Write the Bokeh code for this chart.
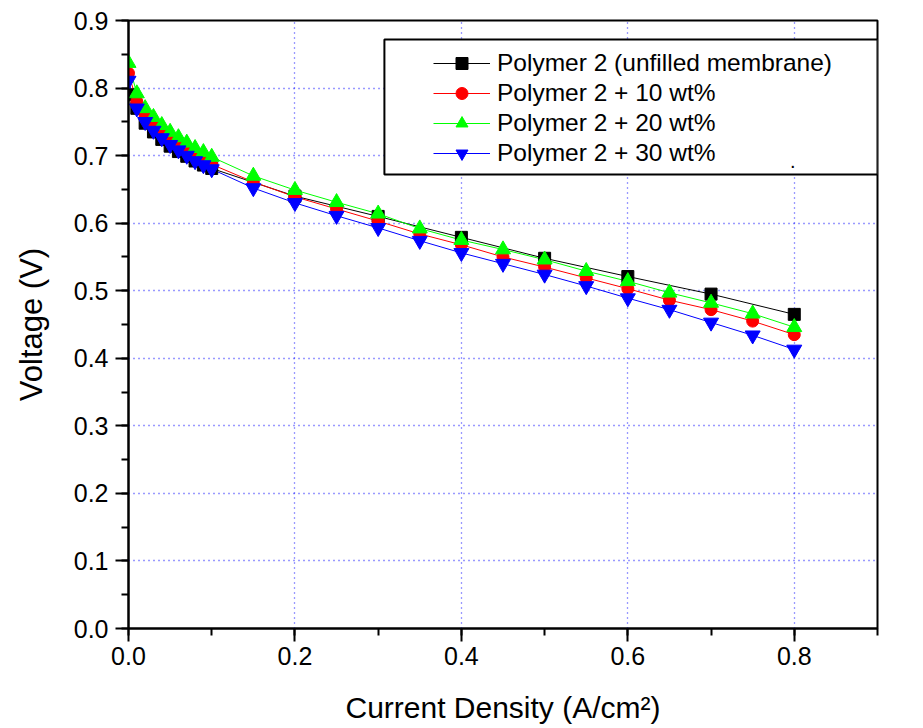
from bokeh.plotting import figure
from bokeh.models import (Range1d, SingleIntervalTicker, NumeralTickFormatter, Legend,
                          LegendItem, BoxAnnotation, Label)
from bokeh.embed import file_html
from bokeh.resources import INLINE

# ---- data ----
black_x = [0.0, 0.01, 0.02, 0.03, 0.04, 0.05, 0.06, 0.07, 0.08, 0.09, 0.10,
           0.2, 0.3, 0.4, 0.5, 0.6, 0.7, 0.8]
black_v = [0.790, 0.770, 0.748, 0.735, 0.724, 0.714, 0.706, 0.699, 0.692, 0.686, 0.681,
           0.640, 0.610, 0.579, 0.548, 0.521, 0.495, 0.465]

filled_x = [0.0, 0.01, 0.02, 0.03, 0.04, 0.05, 0.06, 0.07, 0.08, 0.09, 0.10,
            0.15, 0.2, 0.25, 0.3, 0.35, 0.4, 0.45, 0.5, 0.55, 0.6, 0.65, 0.7, 0.75, 0.8]
red_v = [0.822, 0.780, 0.759, 0.746, 0.735, 0.725, 0.717, 0.709, 0.701, 0.694, 0.687,
         0.661, 0.639, 0.621, 0.603, 0.584, 0.568, 0.550, 0.535, 0.519, 0.503, 0.486,
         0.472, 0.455, 0.435]
green_v = [0.837, 0.792, 0.770, 0.757, 0.745, 0.735, 0.727, 0.719, 0.711, 0.705, 0.698,
           0.670, 0.649, 0.631, 0.614, 0.592, 0.575, 0.561, 0.546, 0.529, 0.514, 0.497,
           0.482, 0.466, 0.446]
blue_v = [0.811, 0.770, 0.750, 0.737, 0.726, 0.716, 0.708, 0.700, 0.692, 0.686, 0.680,
          0.652, 0.630, 0.611, 0.593, 0.574, 0.556, 0.540, 0.524, 0.507, 0.489, 0.472,
          0.453, 0.434, 0.413]

series_labels = ["Polymer 2 (unfilled membrane)", "Polymer 2 + 10 wt%",
                 "Polymer 2 + 20 wt%", "Polymer 2 + 30 wt%"]

FONT = "Liberation Sans"

p = figure(width=923, height=728, output_backend="svg", toolbar_location=None,
           x_range=Range1d(0, 0.9), y_range=Range1d(0, 0.9),
           min_border_left=128, min_border_right=46, min_border_top=20, min_border_bottom=100)
p.background_fill_color = "white"
p.border_fill_color = "white"
p.outline_line_color = "black"
p.outline_line_width = 2
p.outline_line_alpha = 1

# axes
p.xaxis.ticker = SingleIntervalTicker(interval=0.2, num_minor_ticks=2)
p.yaxis.ticker = SingleIntervalTicker(interval=0.1, num_minor_ticks=2)
p.xaxis.formatter = NumeralTickFormatter(format="0.0")
p.yaxis.formatter = NumeralTickFormatter(format="0.0")
for ax in (p.xaxis[0], p.yaxis[0]):
    ax.axis_line_width = 2
    ax.axis_line_color = "black"
    ax.major_tick_line_width = 2
    ax.minor_tick_line_width = 2
    ax.major_tick_line_color = "black"
    ax.minor_tick_line_color = "black"
    ax.major_tick_out = 13
    ax.major_tick_in = 0
    ax.minor_tick_out = 7
    ax.minor_tick_in = 0
    ax.major_label_text_font = FONT
    ax.major_label_text_color = "black"
    ax.axis_label_text_font = FONT
    ax.axis_label_text_font_style = "normal"
    ax.axis_label_text_color = "black"
p.xaxis.major_label_text_font_size = "25px"
p.yaxis.major_label_text_font_size = "25px"
p.xaxis.major_label_standoff = 5
p.yaxis.major_label_standoff = 7
p.yaxis.axis_label = "Voltage (V)"
p.yaxis.axis_label_text_font_size = "31px"
p.yaxis.axis_label_standoff = 22
p.xaxis.axis_label = "Current Density (A/cm\u00b2)"
p.xaxis.axis_label_text_font_size = "30px"
p.xaxis.axis_label_standoff = 23

# grid
for g in (p.xgrid[0], p.ygrid[0]):
    g.grid_line_color = "#0000ff"
    g.grid_line_dash = "1 4"
    g.grid_line_width = 1.3
    g.grid_line_alpha = 0.8

# series
r_black_l = p.line(black_x, black_v, line_color="black", line_width=1)
r_red_l = p.line(filled_x, red_v, line_color="#ff0000", line_width=1)
r_green_l = p.line(filled_x, green_v, line_color="#00ff00", line_width=1)
r_blue_l = p.line(filled_x, blue_v, line_color="#0000ff", line_width=1)

r_black = p.scatter(black_x, black_v, marker="square", size=12,
                    fill_color="black", line_color="black")
r_red = p.scatter(filled_x, red_v, marker="circle", size=12,
                  fill_color="#ff0000", line_color="#ff0000")
r_green = p.scatter(filled_x, green_v, marker="triangle", size=15,
                    fill_color="#00ff00", line_color="#00ff00")
r_blue = p.scatter(filled_x, blue_v, marker="inverted_triangle", size=15,
                   fill_color="#0000ff", line_color="#0000ff")

# legend frame (white box over grid)
box = BoxAnnotation(left=0.3075, right=0.9, bottom=0.672, top=0.8718,
                    fill_color="white", fill_alpha=1.0,
                    line_color="black", line_width=2, line_alpha=1.0)
p.add_layout(box)

legend = Legend(items=[
    LegendItem(label=series_labels[0], renderers=[r_black_l, r_black]),
    LegendItem(label=series_labels[1], renderers=[r_red_l, r_red]),
    LegendItem(label=series_labels[2], renderers=[r_green_l, r_green]),
    LegendItem(label=series_labels[3], renderers=[r_blue_l, r_blue]),
], location=(300, 455), padding=5, margin=0, spacing=0,
    glyph_width=57, glyph_height=30, label_height=30, label_standoff=7,
    label_text_font=FONT, label_text_font_size="24.5px", label_text_color="black",
    border_line_alpha=0, background_fill_alpha=0)
p.add_layout(legend, "center")

p.add_layout(Label(x=0.795, y=0.681, text=".", text_font=FONT, text_font_size="20px",
                   text_color="black"))

open("out.html", "w").write(file_html(p, INLINE))
